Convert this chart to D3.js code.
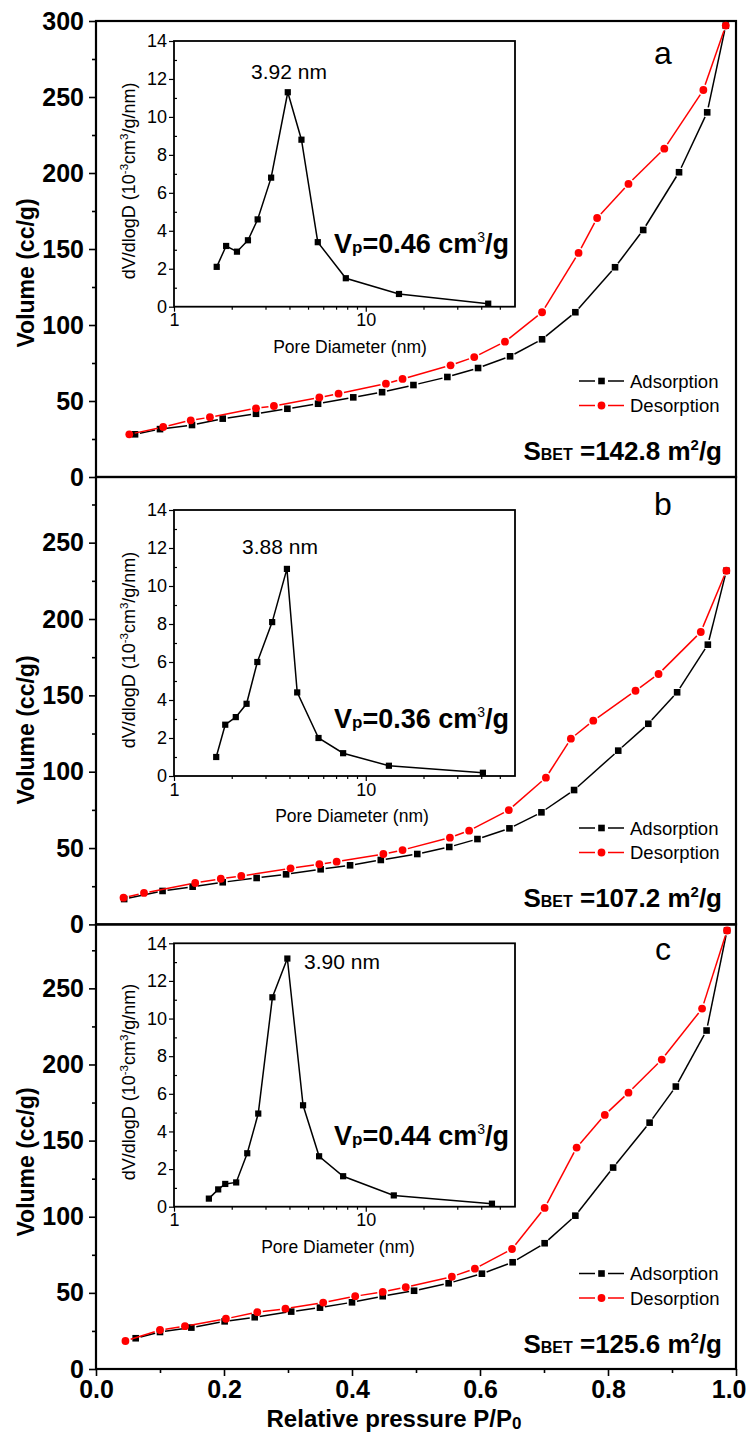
<!DOCTYPE html>
<html>
<head>
<meta charset="utf-8">
<script src="https://cdn.jsdelivr.net/npm/d3@7"></script>
<style>
  body { margin: 0; background: #fff; }
  svg { display: block; }
  text { font-family: "Liberation Sans", Arial, sans-serif; }
</style>
</head>
<body>
<div id="chart"></div>
<script>
// N2 adsorption / desorption isotherms, three samples (a, b, c)

// panel a
const adsPA = [0.061, 0.100, 0.150, 0.198, 0.250, 0.299, 0.347, 0.402, 0.447, 0.496, 0.549, 0.597, 0.647, 0.697, 0.749, 0.811, 0.855, 0.911, 0.955, 0.984];
const adsVA = [28.1, 31.5, 34.2, 38.4, 41.6, 44.9, 48.2, 52.4, 55.8, 60.5, 65.8, 71.7, 79.4, 90.6, 108.4, 138.0, 162.5, 200.5, 239.9, 297.0];
const desPA = [0.052, 0.105, 0.148, 0.178, 0.250, 0.278, 0.349, 0.379, 0.453, 0.479, 0.554, 0.591, 0.639, 0.697, 0.754, 0.783, 0.832, 0.888, 0.949, 0.984];
const desVA = [28.1, 32.9, 37.3, 39.3, 45.2, 46.7, 52.3, 54.8, 61.4, 64.5, 73.5, 78.9, 89.0, 108.4, 147.4, 170.4, 192.8, 216.0, 254.6, 297.0];

// panel b
const adsPB = [0.044, 0.104, 0.151, 0.198, 0.251, 0.297, 0.351, 0.397, 0.445, 0.502, 0.552, 0.596, 0.646, 0.696, 0.747, 0.816, 0.863, 0.908, 0.956, 0.985];
const adsVB = [16.6, 21.9, 24.7, 27.6, 30.4, 32.8, 36.1, 38.7, 42.2, 46.1, 50.7, 55.9, 62.9, 73.4, 88.0, 113.8, 131.4, 152.0, 183.2, 231.6];
const desPB = [0.043, 0.075, 0.155, 0.195, 0.227, 0.304, 0.349, 0.376, 0.449, 0.479, 0.553, 0.583, 0.645, 0.703, 0.742, 0.777, 0.843, 0.879, 0.945, 0.985];
const desVB = [17.5, 20.6, 27.1, 29.9, 31.7, 36.7, 39.4, 41.1, 46.1, 48.7, 56.8, 61.4, 74.9, 96.1, 121.6, 133.4, 153.0, 164.0, 191.5, 231.6];

// panel c
const adsPC = [0.062, 0.100, 0.149, 0.201, 0.248, 0.305, 0.350, 0.400, 0.448, 0.497, 0.551, 0.603, 0.651, 0.701, 0.749, 0.808, 0.865, 0.906, 0.954, 0.986];
const adsVC = [20.2, 24.3, 27.2, 31.3, 34.0, 37.7, 40.3, 43.8, 47.8, 51.4, 56.3, 62.6, 70.1, 82.6, 100.7, 132.3, 161.8, 185.5, 222.3, 288.0];
const desPC = [0.046, 0.100, 0.139, 0.203, 0.252, 0.296, 0.355, 0.405, 0.448, 0.484, 0.556, 0.592, 0.650, 0.701, 0.751, 0.795, 0.832, 0.884, 0.947, 0.986];
const desVC = [18.4, 25.6, 28.1, 33.0, 37.3, 39.6, 43.6, 47.8, 50.6, 53.7, 60.6, 65.9, 78.8, 105.8, 145.4, 166.9, 181.5, 203.2, 236.7, 288.0];

// pore size distributions (insets)
const poreA = [1.67, 1.87, 2.13, 2.43, 2.73, 3.21, 3.92, 4.62, 5.62, 7.87, 14.9, 43.5];
const psdA  = [2.1, 3.2, 2.9, 3.5, 4.6, 6.8, 11.3, 8.8, 3.4, 1.5, 0.67, 0.16];
const poreB = [1.66, 1.85, 2.10, 2.39, 2.72, 3.25, 3.88, 4.39, 5.67, 7.62, 13.2, 40.8];
const psdB  = [1.0, 2.7, 3.1, 3.8, 6.0, 8.1, 10.9, 4.4, 2.0, 1.2, 0.54, 0.17];
const poreC = [1.52, 1.70, 1.85, 2.11, 2.41, 2.75, 3.26, 3.90, 4.71, 5.71, 7.62, 14.0, 45.5];
const psdC  = [0.43, 0.92, 1.21, 1.29, 2.84, 4.95, 11.13, 13.19, 5.39, 2.68, 1.62, 0.6, 0.16];

// tick values
const yTicksA = [0, 50, 100, 150, 200, 250, 300];
const yTicksBC = [0, 50, 100, 150, 200, 250];
const yMinor = [25, 75, 125, 175, 225, 275];
const xTicks = [0, 0.2, 0.4, 0.6, 0.8, 1.0];
const xMinor = [0.1, 0.3, 0.5, 0.7, 0.9];
const insetYTicks = [0, 2, 4, 6, 8, 10, 12, 14];
const insetYMinor = [1, 3, 5, 7, 9, 11, 13];
const insetXTicks = [1, 10];
const insetXMinor = [2, 3, 4, 5, 6, 7, 8, 9, 20, 30, 40, 50];

const panels = [
  { ads: [adsPA, adsVA], des: [desPA, desVA], pore: poreA, psd: psdA, yMax: 300, yTicks: yTicksA,
    top: 21, bottom: 477, letter: 'a', peak: '3.92 nm', vp: '0.46', sbet: '142.8',
    inTop: 41, inBottom: 306.7, peakX: 251, peakY: 79, vpY: 253, legY: 381, sbetY: 460, letterY: 64, volY: 273, poreLab: 350 },
  { ads: [adsPB, adsVB], des: [desPB, desVB], pore: poreB, psd: psdB, yMax: 293, yTicks: yTicksBC,
    top: 477, bottom: 924.4, letter: 'b', peak: '3.88 nm', vp: '0.36', sbet: '107.2',
    inTop: 510, inBottom: 776, peakX: 242, peakY: 554, vpY: 728, legY: 828, sbetY: 907, letterY: 515, volY: 730, poreLab: 352 },
  { ads: [adsPC, adsVC], des: [desPC, desVC], pore: poreC, psd: psdC, yMax: 292, yTicks: yTicksBC,
    top: 924.4, bottom: 1369, letter: 'c', peak: '3.90 nm', vp: '0.44', sbet: '125.6',
    inTop: 943.3, inBottom: 1206.7, peakX: 304, peakY: 969, vpY: 1145, legY: 1273.5, sbetY: 1353, letterY: 960, volY: 1162, poreLab: 338 }
];

const width = 747, height = 1437;
const svg = d3.select('#chart').append('svg')
  .attr('width', width).attr('height', height)
  .style('background', '#fff');

const x = d3.scaleLinear().domain([0, 1]).range([96, 736]);
const xLog = d3.scaleLog().domain([1, 60]).range([174, 515]);

// draw line segments between points, leaving small gaps at the markers
function gapLine(g, px, py, color, gap) {
  const pts = px.map((p, i) => [p, py[i]]);
  for (let i = 0; i < pts.length - 1; i++) {
    const [x1, y1] = pts[i], [x2, y2] = pts[i + 1];
    const len = Math.hypot(x2 - x1, y2 - y1);
    if (len < gap * 2 + 1) continue;
    const ux = (x2 - x1) / len, uy = (y2 - y1) / len;
    g.append('line')
      .attr('x1', x1 + ux * gap).attr('y1', y1 + uy * gap)
      .attr('x2', x2 - ux * gap).attr('y2', y2 - uy * gap)
      .attr('stroke', color).attr('stroke-width', 1.5);
  }
}

function styleAxis(g, size, weight) {
  g.select('.domain').remove();
  g.selectAll('line').attr('stroke', '#000').attr('stroke-width', 1.6);
  g.selectAll('text').attr('font-size', size).attr('font-weight', weight)
    .attr('font-family', '"Liberation Sans", Arial, sans-serif').attr('fill', '#000');
}

panels.forEach((p, k) => {
  const y = d3.scaleLinear().domain([0, p.yMax]).range([p.bottom, p.top]);
  const g = svg.append('g');

  // y axis
  g.append('g').attr('transform', `translate(${x(0)},0)`)
    .call(d3.axisLeft(y).tickValues(yMinor).tickSize(4).tickFormat(''))
    .call(s => styleAxis(s, 25, 'bold'));
  g.append('g').attr('transform', `translate(${x(0)},0)`)
    .call(d3.axisLeft(y).tickValues(p.yTicks).tickSize(7).tickPadding(5))
    .call(s => styleAxis(s, 25, 'bold'));

  g.append('text')
    .attr('transform', `translate(34,${p.volY}) rotate(-90)`)
    .attr('text-anchor', 'middle')
    .attr('font-size', 23).attr('font-weight', 'bold')
    .text('Volume (cc/g)');

  // frame
  g.append('rect')
    .attr('x', x(0)).attr('y', y(p.yMax))
    .attr('width', x(1) - x(0)).attr('height', y(0) - y(p.yMax))
    .attr('fill', 'none').attr('stroke', '#000').attr('stroke-width', 2.2);

  // isotherms
  const adsX = p.ads[0].map(d => x(d)), adsY = p.ads[1].map(d => y(d));
  const desX = p.des[0].map(d => x(d)), desY = p.des[1].map(d => y(d));
  gapLine(g, adsX, adsY, '#000', 5);
  g.selectAll('.sq').data(adsX).enter().append('rect')
    .attr('x', (d, i) => d - 3.3).attr('y', (d, i) => adsY[i] - 3.3)
    .attr('width', 6.6).attr('height', 6.6).attr('fill', '#000');
  gapLine(g, desX, desY, '#ff0000', 5.5);
  g.selectAll('.ci').data(desX).enter().append('circle')
    .attr('cx', d => d).attr('cy', (d, i) => desY[i])
    .attr('r', 3.9).attr('fill', '#ff0000');

  // legend
  const lg = g.append('g');
  [['Adsorption', '#000', 'sq'], ['Desorption', '#ff0000', 'ci']].forEach(([name, col, m], j) => {
    const ly = p.legY + j * 24.5;
    lg.append('line').attr('x1', 579).attr('x2', 595).attr('y1', ly).attr('y2', ly)
      .attr('stroke', col).attr('stroke-width', 1.5);
    lg.append('line').attr('x1', 608).attr('x2', 624).attr('y1', ly).attr('y2', ly)
      .attr('stroke', col).attr('stroke-width', 1.5);
    if (m === 'sq') {
      lg.append('rect').attr('x', 601.5 - 3.3).attr('y', ly - 3.3).attr('width', 6.6).attr('height', 6.6).attr('fill', col);
    } else {
      lg.append('circle').attr('cx', 601.5).attr('cy', ly).attr('r', 3.9).attr('fill', col);
    }
    lg.append('text').attr('x', 630).attr('y', ly + 6.5)
      .attr('font-size', 18.5).text(name);
  });

  // S_BET
  const sb = g.append('text').attr('x', 722).attr('y', p.sbetY)
    .attr('text-anchor', 'end').attr('font-weight', 'bold').attr('font-size', 26);
  sb.append('tspan').text('S');
  sb.append('tspan').attr('font-size', 16).text('BET');
  sb.append('tspan').text(' =' + p.sbet + ' m');
  sb.append('tspan').attr('font-size', 15).attr('dy', -10).text('2');
  sb.append('tspan').attr('dy', 10).text('/g');

  // panel letter
  g.append('text').attr('x', 663).attr('y', p.letterY)
    .attr('text-anchor', 'middle').attr('font-size', 32).text(p.letter);

  // inset
  const yIn = d3.scaleLinear().domain([0, 14]).range([p.inBottom, p.inTop]);
  const ig = svg.append('g');
  ig.append('rect')
    .attr('x', xLog(1)).attr('y', yIn(14))
    .attr('width', xLog(60) - xLog(1)).attr('height', yIn(0) - yIn(14))
    .attr('fill', '#fff').attr('stroke', '#000').attr('stroke-width', 1.8);

  ig.append('g').attr('transform', `translate(${xLog(1)},0)`)
    .call(d3.axisRight(yIn).tickValues(insetYMinor).tickSize(3).tickFormat(''))
    .call(s => styleAxis(s, 18, 'normal'));
  ig.append('g').attr('transform', `translate(${xLog(1)},0)`)
    .call(d3.axisLeft(yIn).tickValues(insetYTicks).tickSize(5).tickPadding(2))
    .call(s => styleAxis(s, 18, 'normal'));
  ig.append('g').attr('transform', `translate(0,${yIn(0)})`)
    .call(d3.axisBottom(xLog).tickValues(insetXMinor).tickSize(3).tickFormat(''))
    .call(s => styleAxis(s, 18, 'normal'));
  ig.append('g').attr('transform', `translate(0,${yIn(0)})`)
    .call(d3.axisBottom(xLog).tickValues(insetXTicks).tickSize(5).tickPadding(2).tickFormat(d3.format('d')))
    .call(s => styleAxis(s, 18, 'normal'));
  ig.selectAll('.tick line').attr('stroke-width', 1.2);

  ig.append('text').attr('x', p.poreLab).attr('y', yIn(0) + 46)
    .attr('text-anchor', 'middle').attr('font-size', 17.5).text('Pore Diameter (nm)');

  const yl = ig.append('text')
    .attr('transform', `translate(135,${(yIn(0) + yIn(14)) / 2 + 7}) rotate(-90)`)
    .attr('text-anchor', 'middle').attr('font-size', 18);
  yl.append('tspan').text('dV/dlogD (10');
  yl.append('tspan').attr('font-size', 11.5).attr('dy', -7).text('-3');
  yl.append('tspan').attr('dy', 7).text('cm');
  yl.append('tspan').attr('font-size', 11.5).attr('dy', -7).text('3');
  yl.append('tspan').attr('dy', 7).text('/g/nm)');

  const line = d3.line().x(d => xLog(d[0])).y(d => yIn(d[1]));
  const pts = p.pore.map((d, i) => [d, p.psd[i]]);
  ig.append('path').datum(pts).attr('d', line)
    .attr('fill', 'none').attr('stroke', '#000').attr('stroke-width', 1.5);
  ig.selectAll('.pm').data(pts).enter().append('rect')
    .attr('x', d => xLog(d[0]) - 3.1).attr('y', d => yIn(d[1]) - 3.1)
    .attr('width', 6.2).attr('height', 6.2).attr('fill', '#000');

  ig.append('text').attr('x', p.peakX).attr('y', p.peakY)
    .attr('font-size', 21).text(p.peak);

  const vt = ig.append('text').attr('x', 334).attr('y', p.vpY)
    .attr('font-size', 27).attr('font-weight', 'bold');
  vt.append('tspan').text('V');
  vt.append('tspan').attr('font-size', 17).text('p');
  vt.append('tspan').text('=' + p.vp + ' cm');
  vt.append('tspan').attr('font-size', 14).attr('font-weight', 'normal').attr('dy', -11).text('3');
  vt.append('tspan').attr('dy', 11).text('/g');

  // bottom axis on last panel
  if (k === panels.length - 1) {
    svg.append('g').attr('transform', `translate(0,${p.bottom})`)
      .call(d3.axisBottom(x).tickValues(xMinor).tickSize(4).tickFormat(''))
      .call(s => styleAxis(s, 25, 'bold'));
    svg.append('g').attr('transform', `translate(0,${p.bottom})`)
      .call(d3.axisBottom(x).tickValues(xTicks).tickSize(7).tickPadding(4).tickFormat(d3.format('.1f')))
      .call(s => styleAxis(s, 25, 'bold'))
      .call(s => s.selectAll('.tick text').filter(d => d === 1).attr('text-anchor', 'end').attr('dx', 10));
    const xl = svg.append('text').attr('x', 394).attr('y', 1427)
      .attr('text-anchor', 'middle').attr('font-size', 24).attr('font-weight', 'bold');
    xl.append('tspan').text('Relative pressure P/P');
    xl.append('tspan').attr('font-size', 17).attr('dy', 2).text('0');
  }
});
</script>
</body>
</html>
